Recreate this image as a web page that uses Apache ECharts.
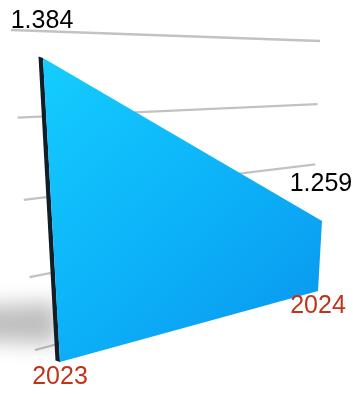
<!DOCTYPE html>
<html>
<head>
<meta charset="utf-8">
<script src="https://cdn.jsdelivr.net/npm/echarts@6/dist/echarts.min.js"></script>
<style>html,body{margin:0;padding:0;background:#fff;}#c{width:353px;height:394px;}</style>
</head>
<body>
<div id="c"></div>
<script>
// ---- data ----
const categories = ['2023', '2024'];
const values = [1.384, 1.259];
const valueLabels = ['1.384', '1.259'];
const gridValues = [1.2, 1.25, 1.3, 1.35, 1.4];
const yMin = 1.2, yMax = 1.4, yInterval = 0.05;

// ---- perspective helpers (layout only) ----
function makeH(p00, p10, p11, p01) {
  const [x0,y0]=p00,[x1,y1]=p10,[x2,y2]=p11,[x3,y3]=p01;
  const dx1=x1-x2, dx2=x3-x2, dx3=x0-x1+x2-x3;
  const dy1=y1-y2, dy2=y3-y2, dy3=y0-y1+y2-y3;
  const den=dx1*dy2-dx2*dy1;
  const g=(dx3*dy2-dx2*dy3)/den, h=(dx1*dy3-dx3*dy1)/den;
  const a=x1-x0+g*x1, b=x3-x0+h*x3, c=x0;
  const d=y1-y0+g*y1, e=y3-y0+h*y3, f=y0;
  return function(u,v){const w=g*u+h*v+1; return [(a*u+b*v+c)/w,(d*u+e*v+f)/w];};
}
const GW = 100, GH = 100; // hidden flat grid size
const front = makeH([60,362],[318,291],[332.6,35.4],[41.3,27.7]);
const back  = makeH([35,350],[311,277],[320,41],[11,30]);
const depth = [-4.5, -1.5];
function uv(api, x, y) {
  const p = api.coord([x, y]);
  return [p[0]/GW, 1 - p[1]/GH];
}

const chart = echarts.init(document.getElementById('c'), null, {renderer:'canvas'});
const font = '"Liberation Sans", Arial, Helvetica, sans-serif';

chart.setOption({
  animation: false,
  grid: {left:0, top:0, width:GW, height:GH, show:false},
  xAxis: {type:'category', data:categories, boundaryGap:false, show:false},
  yAxis: {type:'value', min:yMin, max:yMax, interval:yInterval, show:false},
  series: [
    {
      type:'custom', clip:false, z:1,
      data: gridValues.map(v => [0, v]),
      renderItem: function(params, api) {
        const t = uv(api, 0, api.value(1));
        const p0 = back(0, t[1]), p1 = back(1, t[1]);
        return {type:'line', shape:{x1:p0[0], y1:p0[1], x2:p1[0], y2:p1[1]},
                style:{stroke:'#c2c2c2', lineWidth:2.3}};
      }
    },
    {
      type:'custom', clip:false, z:2,
      data: categories.map((c,i) => [i, values[i]]),
      renderItem: function(params, api) {
        const i = params.dataIndex;
        const children = [];
        if (i === 0) {
          const top = values.map((v,k) => { const q = uv(api, k, v); return front(q[0], q[1]); });
          const bot = values.map((v,k) => { const q = uv(api, k, yMin); return front(q[0], q[1]); });
          const B = bot[0];
          // soft shadow on the floor
          children.push({type:'polygon', x:-2000,
            shape:{points:[[B[0]-2,B[1]-60],[B[0]-2,B[1]-18],[B[0]-110,B[1]-22],[B[0]-110,B[1]-54]]},
            style:{fill:'#000', shadowBlur:20, shadowColor:'rgba(0,0,0,0.25)', shadowOffsetX:2000}});
          // left side face
          const tl = top[0];
          children.push({type:'polygon',
            shape:{points:[tl, B, [B[0]+depth[0], B[1]+depth[1]], [tl[0]+depth[0], tl[1]+depth[1]]]},
            style:{fill:'#0f1e29'}});
          // front face
          const pts = top.concat(bot.slice().reverse());
          children.push({type:'polygon', shape:{points:pts},
            style:{fill:new echarts.graphic.LinearGradient(0,0,1,1,[
              {offset:0,color:'#14cdfe'},{offset:0.55,color:'#0cb0f8'},{offset:1,color:'#0994ee'}])}});
        }
        const qt = uv(api, i, api.value(1));
        const pt = front(qt[0], qt[1]);
        const qb = uv(api, i, yMin);
        const pb = front(qb[0], qb[1]);
        children.push({type:'text', x:pt[0]-1, y:pt[1]-37,
          style:{text:valueLabels[i], font:'25px '+font, fill:'#000', align:'center', verticalAlign:'middle'}});
        children.push({type:'text', x:pb[0], y:pb[1]+15,
          style:{text:categories[i], font:'25px '+font, fill:'#c1341c', align:'center', verticalAlign:'middle'}});
        return {type:'group', children:children};
      }
    }
  ]
});
</script>
</body>
</html>
